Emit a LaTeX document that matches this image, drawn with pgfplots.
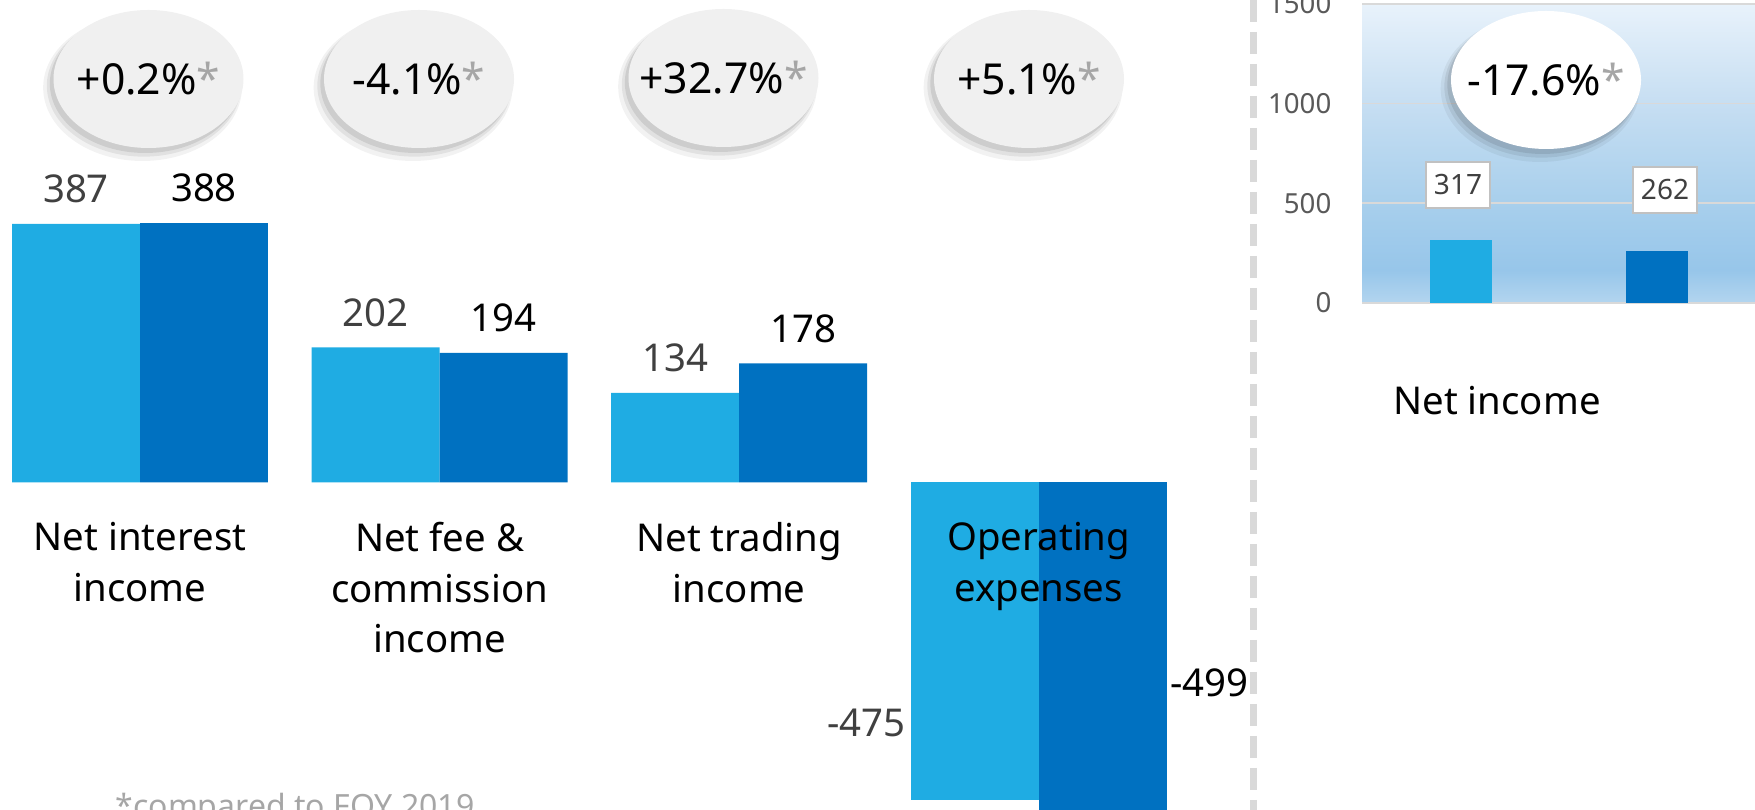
\documentclass[border=0pt]{standalone}
\usepackage{fontspec}
\setmainfont{Noto Sans}
\usepackage{pgfplots}
\pgfplotsset{compat=1.18}
\definecolor{lightbar}{HTML}{1FACE3}
\definecolor{darkbar}{HTML}{0071C1}
\definecolor{labgray}{HTML}{404040}
\definecolor{tickgray}{HTML}{595959}
\definecolor{stargray}{HTML}{A6A6A6}
\definecolor{ellgray}{HTML}{F0F0F0}
\definecolor{dashgray}{HTML}{D9D9D9}
\definecolor{nb1}{HTML}{E8F2FB}
\definecolor{nb2}{HTML}{C6DEF2}
\definecolor{nb3}{HTML}{A8CFEC}
\definecolor{nb4}{HTML}{97C6EA}
\definecolor{nb5}{HTML}{B3D5EF}
\pgfdeclareverticalshading{netbg}{100bp}{color(0bp)=(nb5); color(25bp)=(nb5); color(30.5bp)=(nb4); color(41.7bp)=(nb3); color(58.3bp)=(nb2); color(75bp)=(nb1); color(100bp)=(nb1)}
\newcommand{\bubble}[4]{%
  \begin{scope}[shift={(#1,#2)}]
    \fill[black,opacity=0.05] (-1.8pt,-2.6pt) ellipse [x radius=29.8pt, y radius=22pt];
    \fill[black,opacity=0.07] (-1.4pt,-2.0pt) ellipse [x radius=29.1pt, y radius=21.3pt];
    \fill[black,opacity=0.09] (-1.0pt,-1.4pt) ellipse [x radius=28.6pt, y radius=20.8pt];
    \fill[#3] (0,0) ellipse [x radius=28.5pt, y radius=20.7pt];
    \node[font=\fontsize{12.8}{15}\selectfont] at (0,0) {#4};
  \end{scope}}
\newcommand{\st}{{\color{stargray}*}}
\begin{document}
\begin{tikzpicture}
\useasboundingbox (0,0) rectangle (526.5pt,243pt);
\clip (0,0) rectangle (526.5pt,243pt);

% left chart
\begin{axis}[at={(0pt,-3.93pt)}, anchor=south west, scale only axis,
  width=390pt, height=246.93pt,
  xmin=-0.4673, xmax=3.872, ymin=-510, ymax=722,
  hide axis, ybar, bar width=0.427,
  /pgf/number format/assume math mode=true,
  every node near coord/.append style={font=\fontsize{11.5}{14}\selectfont}]
\addplot[fill=lightbar, draw=none, bar shift=-0.2137, nodes near coords,
  nodes near coords style={text=labgray, anchor=center, yshift=10.5pt}]
  coordinates {(0,387) (1,202) (2,134)};
\addplot[fill=darkbar, draw=none, bar shift=0.2137, nodes near coords,
  nodes near coords style={text=black, anchor=center, yshift=10.5pt}]
  coordinates {(0,388) (1,194) (2,178)};
\addplot[fill=lightbar, draw=none, bar shift=-0.2137, nodes near coords,
  nodes near coords style={text=labgray, anchor=east, xshift=-17.3pt, yshift=23.1pt}]
  coordinates {(3,-475)};
\addplot[fill=darkbar, draw=none, bar shift=0.2137, nodes near coords,
  nodes near coords style={text=black, anchor=west, xshift=16.8pt, yshift=39.8pt}]
  coordinates {(3,-499)};
\node[anchor=north, align=center, font=\fontsize{11.5}{15.2}\selectfont] at (axis cs:0,-42) {Net interest\\income};
\node[anchor=north, align=center, font=\fontsize{11.5}{15.2}\selectfont] at (axis cs:1,-42) {Net fee \&\\commission\\income};
\node[anchor=north, align=center, font=\fontsize{11.5}{15.2}\selectfont] at (axis cs:2,-42) {Net trading\\income};
\node[anchor=north, align=center, font=\fontsize{11.5}{15.2}\selectfont] at (axis cs:3,-42) {Operating\\expenses};
\end{axis}

% right chart
\begin{axis}[at={(408.6pt,152.1pt)}, anchor=south west, scale only axis,
  width=131.4pt, height=89.7pt,
  xmin=0, xmax=4.38, ymin=0, ymax=1500,
  ytick={0,500,1000,1500}, xtick=\empty,
  ymajorgrids, grid style={dashgray, line width=0.5pt},
  axis line style={draw=none}, major tick length=0pt,
  yticklabel style={font=\fontsize{8.3}{10}\selectfont, text=tickgray, inner sep=0pt, xshift=-9pt},
  axis background/.style={shading=netbg},
  ybar, bar width=0.62,
  /pgf/number format/assume math mode=true,
  /pgf/number format/1000 sep={},
  every node near coord/.append style={font=\fontsize{8.4}{10}\selectfont, text=labgray, fill=white, draw=stargray!70, line width=0.5pt, inner sep=0pt, minimum width=19.2pt, minimum height=13.8pt}]
\addplot[fill=lightbar, draw=none, bar shift=-0.98, nodes near coords,
  nodes near coords style={anchor=center, yshift=16.5pt, xshift=-0.9pt}]
  coordinates {(1.97,317)};
\addplot[fill=darkbar, draw=none, bar shift=0.98, nodes near coords,
  nodes near coords style={anchor=center, yshift=18.3pt, xshift=2.4pt}]
  coordinates {(1.97,262)};
\end{axis}

% bubbles
\bubble{44.55pt}{219.3pt}{ellgray}{+0.2\%\st}
\bubble{125.7pt}{219.3pt}{ellgray}{-4.1\%\st}
\bubble{217.05pt}{219.6pt}{ellgray}{+32.7\%\st}
\bubble{308.7pt}{219.3pt}{ellgray}{+5.1\%\st}
\bubble{463.8pt}{219pt}{white}{-17.6\%\st}

\node[font=\fontsize{11.5}{14}\selectfont] at (449.1pt,122.7pt) {Net income};

\draw[dashgray, line width=2.1pt, dash pattern=on 6.6pt off 3pt] (375.9pt,243pt) -- (375.9pt,0pt);

\node[anchor=base west, text=stargray, font=\fontsize{9.6}{11}\selectfont, inner sep=0pt] at (34.5pt,-2.35pt) {*compared to FOY 2019};
\end{tikzpicture}
\end{document}
